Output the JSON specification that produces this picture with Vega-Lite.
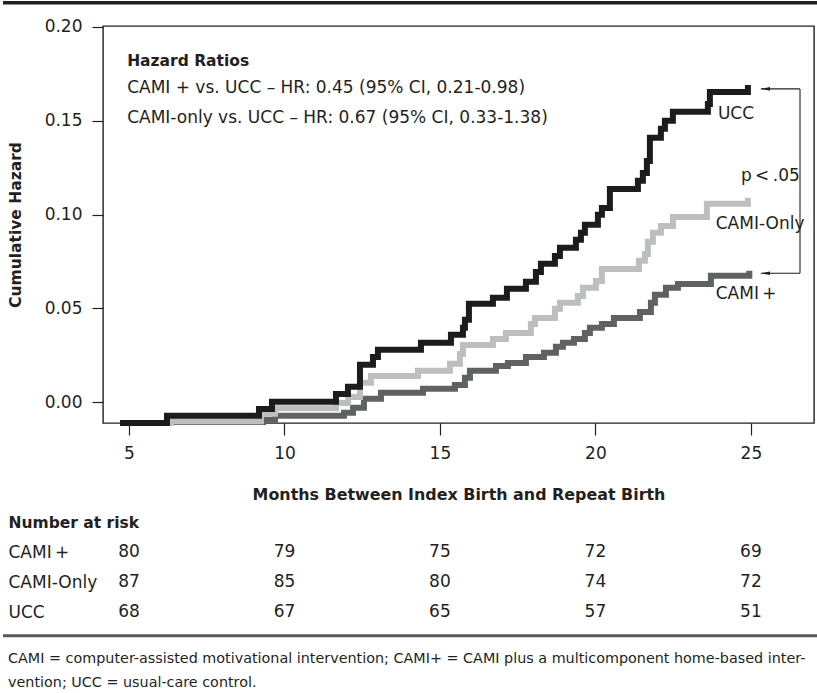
{
  "$schema": "https://vega.github.io/schema/vega-lite/v6.json",
  "background": "white",
  "padding": 0,
  "bounds": "flush",
  "spacing": 87,
  "config": {
    "font": "DejaVu Sans",
    "view": {"stroke": null},
    "text": {"font": "DejaVu Sans", "color": "#231f20"},
    "axis": {"labelFont": "DejaVu Sans", "titleFont": "DejaVu Sans"}
  },
  "datasets": {
    "curves": [
      {"group": "CAMI +", "month": 4.807, "hazard": -0.011},
      {"group": "CAMI +", "month": 6.35, "hazard": -0.0105},
      {"group": "CAMI +", "month": 9.309, "hazard": -0.0093},
      {"group": "CAMI +", "month": 9.695, "hazard": -0.0072},
      {"group": "CAMI +", "month": 11.913, "hazard": -0.0056},
      {"group": "CAMI +", "month": 12.203, "hazard": -0.0029},
      {"group": "CAMI +", "month": 12.556, "hazard": 0.0019},
      {"group": "CAMI +", "month": 13.103, "hazard": 0.0051},
      {"group": "CAMI +", "month": 14.453, "hazard": 0.0072},
      {"group": "CAMI +", "month": 15.482, "hazard": 0.0093},
      {"group": "CAMI +", "month": 15.804, "hazard": 0.0131},
      {"group": "CAMI +", "month": 15.965, "hazard": 0.0168},
      {"group": "CAMI +", "month": 16.801, "hazard": 0.0194},
      {"group": "CAMI +", "month": 17.186, "hazard": 0.021},
      {"group": "CAMI +", "month": 17.765, "hazard": 0.0242},
      {"group": "CAMI +", "month": 18.344, "hazard": 0.0264},
      {"group": "CAMI +", "month": 18.73, "hazard": 0.0296},
      {"group": "CAMI +", "month": 18.955, "hazard": 0.0317},
      {"group": "CAMI +", "month": 19.309, "hazard": 0.0338},
      {"group": "CAMI +", "month": 19.662, "hazard": 0.037},
      {"group": "CAMI +", "month": 19.823, "hazard": 0.0397},
      {"group": "CAMI +", "month": 20.209, "hazard": 0.0418},
      {"group": "CAMI +", "month": 20.595, "hazard": 0.045},
      {"group": "CAMI +", "month": 21.431, "hazard": 0.0482},
      {"group": "CAMI +", "month": 21.785, "hazard": 0.053},
      {"group": "CAMI +", "month": 21.913, "hazard": 0.0573},
      {"group": "CAMI +", "month": 22.267, "hazard": 0.061},
      {"group": "CAMI +", "month": 22.653, "hazard": 0.0631},
      {"group": "CAMI +", "month": 23.714, "hazard": 0.0674},
      {"group": "CAMI +", "month": 24.95, "hazard": 0.0701},
      {"group": "CAMI-Only", "month": 4.807, "hazard": -0.011},
      {"group": "CAMI-Only", "month": 6.35, "hazard": -0.0101},
      {"group": "CAMI-Only", "month": 9.244, "hazard": -0.0061},
      {"group": "CAMI-Only", "month": 9.695, "hazard": -0.0032},
      {"group": "CAMI-Only", "month": 11.656, "hazard": -0.0003},
      {"group": "CAMI-Only", "month": 12.042, "hazard": 0.0029},
      {"group": "CAMI-Only", "month": 12.428, "hazard": 0.0104},
      {"group": "CAMI-Only", "month": 12.781, "hazard": 0.0141},
      {"group": "CAMI-Only", "month": 14.293, "hazard": 0.0168},
      {"group": "CAMI-Only", "month": 15.322, "hazard": 0.0205},
      {"group": "CAMI-Only", "month": 15.643, "hazard": 0.0258},
      {"group": "CAMI-Only", "month": 15.74, "hazard": 0.0306},
      {"group": "CAMI-Only", "month": 16.704, "hazard": 0.0338},
      {"group": "CAMI-Only", "month": 17.122, "hazard": 0.037},
      {"group": "CAMI-Only", "month": 17.926, "hazard": 0.0418},
      {"group": "CAMI-Only", "month": 18.055, "hazard": 0.045},
      {"group": "CAMI-Only", "month": 18.698, "hazard": 0.0498},
      {"group": "CAMI-Only", "month": 18.859, "hazard": 0.053},
      {"group": "CAMI-Only", "month": 19.437, "hazard": 0.0567},
      {"group": "CAMI-Only", "month": 19.598, "hazard": 0.061},
      {"group": "CAMI-Only", "month": 20.016, "hazard": 0.0647},
      {"group": "CAMI-Only", "month": 20.209, "hazard": 0.0711},
      {"group": "CAMI-Only", "month": 21.399, "hazard": 0.0754},
      {"group": "CAMI-Only", "month": 21.592, "hazard": 0.0791},
      {"group": "CAMI-Only", "month": 21.688, "hazard": 0.0855},
      {"group": "CAMI-Only", "month": 21.849, "hazard": 0.0903},
      {"group": "CAMI-Only", "month": 22.106, "hazard": 0.094},
      {"group": "CAMI-Only", "month": 22.492, "hazard": 0.0988},
      {"group": "CAMI-Only", "month": 23.585, "hazard": 0.1058},
      {"group": "CAMI-Only", "month": 24.904, "hazard": 0.109},
      {"group": "UCC", "month": 4.711, "hazard": -0.011},
      {"group": "UCC", "month": 6.222, "hazard": -0.0072},
      {"group": "UCC", "month": 9.18, "hazard": -0.0035},
      {"group": "UCC", "month": 9.598, "hazard": 0.0003},
      {"group": "UCC", "month": 11.656, "hazard": 0.0045},
      {"group": "UCC", "month": 12.042, "hazard": 0.0083},
      {"group": "UCC", "month": 12.428, "hazard": 0.02},
      {"group": "UCC", "month": 12.846, "hazard": 0.0242},
      {"group": "UCC", "month": 13.006, "hazard": 0.028},
      {"group": "UCC", "month": 14.389, "hazard": 0.0317},
      {"group": "UCC", "month": 15.354, "hazard": 0.036},
      {"group": "UCC", "month": 15.74, "hazard": 0.0397},
      {"group": "UCC", "month": 15.804, "hazard": 0.044},
      {"group": "UCC", "month": 15.932, "hazard": 0.0525},
      {"group": "UCC", "month": 16.704, "hazard": 0.0557},
      {"group": "UCC", "month": 17.154, "hazard": 0.0605},
      {"group": "UCC", "month": 17.765, "hazard": 0.0642},
      {"group": "UCC", "month": 18.087, "hazard": 0.0695},
      {"group": "UCC", "month": 18.248, "hazard": 0.0738},
      {"group": "UCC", "month": 18.698, "hazard": 0.078},
      {"group": "UCC", "month": 18.859, "hazard": 0.0823},
      {"group": "UCC", "month": 19.373, "hazard": 0.0866},
      {"group": "UCC", "month": 19.534, "hazard": 0.0903},
      {"group": "UCC", "month": 19.662, "hazard": 0.0946},
      {"group": "UCC", "month": 20.08, "hazard": 0.0999},
      {"group": "UCC", "month": 20.209, "hazard": 0.1036},
      {"group": "UCC", "month": 20.466, "hazard": 0.1137},
      {"group": "UCC", "month": 21.367, "hazard": 0.118},
      {"group": "UCC", "month": 21.527, "hazard": 0.1222},
      {"group": "UCC", "month": 21.656, "hazard": 0.1286},
      {"group": "UCC", "month": 21.752, "hazard": 0.1409},
      {"group": "UCC", "month": 22.106, "hazard": 0.1457},
      {"group": "UCC", "month": 22.235, "hazard": 0.15},
      {"group": "UCC", "month": 22.492, "hazard": 0.1548},
      {"group": "UCC", "month": 23.617, "hazard": 0.159},
      {"group": "UCC", "month": 23.682, "hazard": 0.1654},
      {"group": "UCC", "month": 24.904, "hazard": 0.1691}
    ],
    "notes": [
      {"label": "CAMI + vs. UCC – HR: 0.45 (95% CI, 0.21-0.98)", "month": 4.94, "hazard": 0.1676},
      {"label": "CAMI-only vs. UCC – HR: 0.67 (95% CI, 0.33-1.38)", "month": 4.94, "hazard": 0.1516},
      {"label": "UCC", "month": 23.94, "hazard": 0.1537},
      {"label": "p\u2009<\u2009.05", "month": 24.68, "hazard": 0.1207},
      {"label": "CAMI-Only", "month": 23.87, "hazard": 0.0951},
      {"label": "CAMI\u2009+", "month": 23.87, "hazard": 0.0578}
    ],
    "heading": [
      {"label": "Hazard Ratios", "month": 4.94, "hazard": 0.1819}
    ],
    "bracket": [
      {"m1": 25.32, "m2": 26.58, "h1": 0.167, "h2": 0.167},
      {"m1": 26.58, "m2": 26.58, "h1": 0.167, "h2": 0.0688},
      {"m1": 26.58, "m2": 25.32, "h1": 0.0688, "h2": 0.0688}
    ],
    "heads": [
      {"month": 25.47, "hazard": 0.167},
      {"month": 25.47, "hazard": 0.0688}
    ],
    "border": [
      {"m1": 0.949, "m2": 27.22, "h1": 0.2129, "h2": 0.2129}
    ],
    "risk": [
      {"group": "CAMI\u2009+", "month": 5, "n": 80},
      {"group": "CAMI\u2009+", "month": 10, "n": 79},
      {"group": "CAMI\u2009+", "month": 15, "n": 75},
      {"group": "CAMI\u2009+", "month": 20, "n": 72},
      {"group": "CAMI\u2009+", "month": 25, "n": 69},
      {"group": "CAMI-Only", "month": 5, "n": 87},
      {"group": "CAMI-Only", "month": 10, "n": 85},
      {"group": "CAMI-Only", "month": 15, "n": 80},
      {"group": "CAMI-Only", "month": 20, "n": 74},
      {"group": "CAMI-Only", "month": 25, "n": 72},
      {"group": "UCC", "month": 5, "n": 68},
      {"group": "UCC", "month": 10, "n": 67},
      {"group": "UCC", "month": 15, "n": 65},
      {"group": "UCC", "month": 20, "n": 57},
      {"group": "UCC", "month": 25, "n": 51}
    ],
    "foot": [
      {"line": "l1", "text": "CAMI = computer-assisted motivational intervention; CAMI+ = CAMI plus a multicomponent home-based inter-"},
      {"line": "l2", "text": "vention; UCC = usual-care control."}
    ]
  },
  "vconcat": [
    {
      "width": 711,
      "height": 397,
      "view": {"stroke": "#231f20", "strokeWidth": 1.4},
      "encoding": {
        "x": {
          "field": "month", "type": "quantitative",
          "scale": {"domain": [4.164, 27.03], "nice": false, "zero": false},
          "axis": {
            "values": [5, 10, 15, 20, 25], "grid": false, "domain": false,
            "title": "Months Between Index Birth and Repeat Birth",
            "titleFontSize": 15.9, "titleFontWeight": "bold", "titleColor": "#231f20", "titlePadding": 25,
            "tickSize": 12, "tickColor": "#231f20", "tickWidth": 1.2,
            "labelFontSize": 17, "labelColor": "#231f20", "labelPadding": 10
          }
        },
        "y": {
          "field": "hazard", "type": "quantitative",
          "scale": {"domain": [-0.011, 0.2005], "nice": false, "zero": false},
          "axis": {
            "values": [0, 0.05, 0.1, 0.15, 0.2], "format": ".2f", "grid": false, "domain": false,
            "title": "Cumulative Hazard",
            "titleFontSize": 15.5, "titleFontWeight": "bold", "titleColor": "#231f20", "titlePadding": 21,
            "tickSize": 11, "tickColor": "#231f20", "tickWidth": 1.2,
            "labelFontSize": 17, "labelColor": "#231f20", "labelPadding": 10
          }
        }
      },
      "layer": [
        {
          "data": {"name": "curves"},
          "mark": {"type": "line", "interpolate": "step-after", "strokeWidth": 6, "strokeCap": "butt", "strokeJoin": "miter"},
          "encoding": {
            "color": {
              "field": "group", "type": "nominal",
              "scale": {"domain": ["CAMI +", "CAMI-Only", "UCC"], "range": ["#606163", "#bdbec0", "#1e1b1c"]},
              "legend": null
            }
          }
        },
        {
          "data": {"name": "bracket"},
          "mark": {"type": "rule", "color": "#231f20", "strokeWidth": 1.1},
          "encoding": {
            "x": {"field": "m1", "type": "quantitative"},
            "x2": {"field": "m2"},
            "y": {"field": "h1", "type": "quantitative"},
            "y2": {"field": "h2"}
          }
        },
        {
          "data": {"name": "border"},
          "mark": {"type": "rule", "color": "#231f20", "strokeWidth": 3.5},
          "encoding": {
            "x": {"field": "m1", "type": "quantitative"},
            "x2": {"field": "m2"},
            "y": {"field": "h1", "type": "quantitative"},
            "y2": {"field": "h2"}
          }
        },
        {
          "data": {"name": "heads"},
          "mark": {"type": "point", "shape": "M -1 0 L 1 -0.4 L 1 0.4 Z", "size": 81, "filled": true, "color": "#231f20", "opacity": 1, "strokeWidth": 0},
          "encoding": {}
        },
        {
          "data": {"name": "notes"},
          "mark": {"type": "text", "align": "left", "baseline": "middle", "fontSize": 17, "color": "#231f20"},
          "encoding": {"text": {"field": "label"}}
        },
        {
          "data": {"name": "heading"},
          "mark": {"type": "text", "align": "left", "baseline": "middle", "fontSize": 15.5, "fontWeight": "bold", "color": "#231f20"},
          "encoding": {"text": {"field": "label"}}
        }
      ]
    },
    {
      "bounds": "flush",
      "spacing": 0,
      "vconcat": [
        {
          "width": 711,
          "height": 114,
          "data": {"name": "risk"},
          "mark": {"type": "text", "fontSize": 17, "align": "center", "baseline": "middle", "color": "#231f20"},
          "encoding": {
            "x": {"field": "month", "type": "quantitative", "scale": {"domain": [4.164, 27.03], "nice": false, "zero": false}, "axis": null},
            "y": {
              "field": "group", "type": "nominal",
              "scale": {"type": "point", "domain": ["Number at risk", "CAMI\u2009+", "CAMI-Only", "UCC"], "padding": 0.4},
              "axis": {
                "title": null, "domain": false, "ticks": false, "tickSize": 0, "grid": false,
                "labelPadding": 95, "labelAlign": "left", "labelBaseline": "middle", "labelLimit": 0,
                "labelColor": "#231f20",
                "labelFontSize": {"condition": {"test": "datum.value === 'Number at risk'", "value": 15.5}, "value": 17},
                "labelFontWeight": {"condition": {"test": "datum.value === 'Number at risk'", "value": "bold"}, "value": "normal"}
              }
            },
            "text": {"field": "n"}
          }
        },
        {
          "width": 711,
          "height": 70.2,
          "layer": [
            {
              "data": {"values": [{}]},
              "mark": {"type": "rule", "color": "#58595b", "strokeWidth": 3},
              "encoding": {
                "x": {"datum": 0.949, "type": "quantitative", "scale": {"domain": [4.164, 27.03], "nice": false, "zero": false}, "axis": null},
                "x2": {"datum": 27.22},
                "y": {"datum": "rule", "type": "nominal", "scale": {"type": "point", "domain": ["rule", "l1", "l2"], "padding": 0.5}, "axis": null}
              }
            },
            {
              "data": {"name": "foot"},
              "mark": {"type": "text", "align": "left", "baseline": "middle", "fontSize": 14.35, "color": "#231f20"},
              "encoding": {
                "x": {"datum": 1.11, "type": "quantitative"},
                "y": {"field": "line", "type": "nominal"},
                "text": {"field": "text"}
              }
            }
          ]
        }
      ]
    }
  ]
}
